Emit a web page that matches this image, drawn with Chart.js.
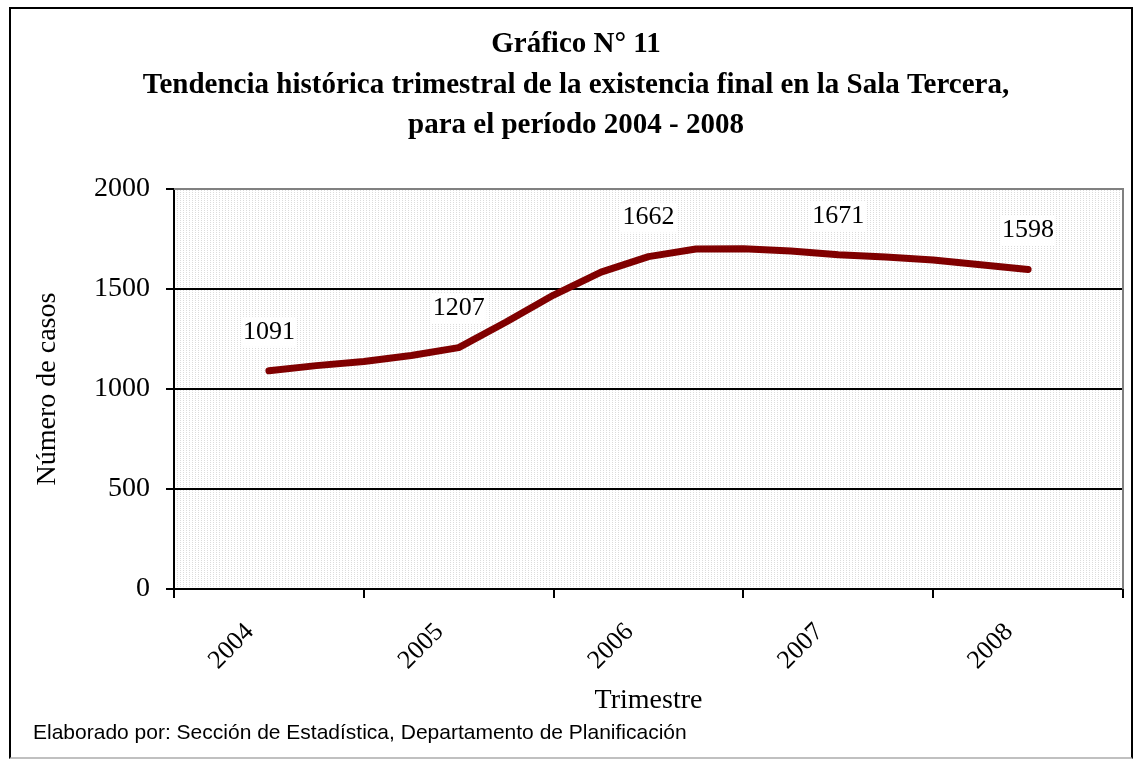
<!DOCTYPE html>
<html>
<head>
<meta charset="utf-8">
<script src="https://cdn.jsdelivr.net/npm/chart.js@4.4.0/dist/chart.umd.min.js"></script>
<style>
  html, body { margin: 0; padding: 0; background: #fff; }
  #wrap { position: relative; width: 1140px; height: 759px; overflow: hidden; }
  #frame { position: absolute; left: 9px; top: 7px; width: 1120px; height: 748px;
           border: 2px solid #000; border-bottom-color: #c0c0c0; pointer-events: none; }
  #footer { position: absolute; left: 33px; top: 720px; color: #000;
            font: 21px "Liberation Sans", Arial, sans-serif; }
</style>
</head>
<body>
<div id="wrap">
  <canvas id="chart" width="1140" height="759"></canvas>
  <div id="frame"></div>
  <div id="footer">Elaborado por: Sección de Estadística, Departamento de Planificación</div>
</div>
<script>
// ---- data ----
const years = ["2004", "2005", "2006", "2007", "2008"];
// position of each quarter on the year axis (0 = left edge of 2004, 5 = right edge of 2008)
const quarterPos = [0.5, 0.75, 1, 1.25, 1.5, 1.75, 2, 2.25, 2.5, 2.75, 3, 3.25, 3.5, 3.75, 4, 4.25, 4.5];
const casos = [1091, 1117, 1138, 1168, 1207, 1335, 1470, 1585, 1662, 1700, 1702, 1690, 1671, 1660, 1645, 1622, 1598];
const labelIdx = [0, 4, 8, 12, 16];   // points that carry a value label
const titleLines = [
  "Gráfico N° 11",
  "Tendencia histórica trimestral de la existencia final en la Sala Tercera,",
  "para el período 2004 - 2008"
];

const SERIF = "'Liberation Serif', 'Times New Roman', serif";

// dotted plot background like the original
function dotPattern(ctx) {
  const c = document.createElement("canvas");
  c.width = 3; c.height = 2;
  const g = c.getContext("2d");
  g.fillStyle = "#fff"; g.fillRect(0, 0, 3, 2);
  g.fillStyle = "#dcdcdc"; g.fillRect(0, 0, 1, 1);
  return ctx.createPattern(c, "repeat");
}

const plotBg = {
  id: "plotBg",
  beforeDraw(chart) {
    const { ctx, chartArea: a } = chart;
    ctx.save();
    ctx.fillStyle = dotPattern(ctx);
    ctx.fillRect(a.left, a.top, a.right - a.left, a.bottom - a.top);
    ctx.restore();
  },
  beforeDatasetsDraw(chart) {
    const { ctx, chartArea: a } = chart;
    ctx.save();
    ctx.strokeStyle = "#808080";
    ctx.lineWidth = 2;
    ctx.beginPath();
    ctx.moveTo(a.left, a.top);
    ctx.lineTo(a.right, a.top);
    ctx.lineTo(a.right, a.bottom);
    ctx.stroke();
    ctx.restore();
  }
};

const valueLabels = {
  id: "valueLabels",
  afterDatasetsDraw(chart) {
    const { ctx } = chart;
    const meta = chart.getDatasetMeta(0);
    ctx.save();
    ctx.font = "26px " + SERIF;
    ctx.textAlign = "center";
    ctx.textBaseline = "middle";
    labelIdx.forEach(i => {
      const p = meta.data[i];
      const txt = String(casos[i]);
      const w = ctx.measureText(txt).width;
      const y = p.y - 39;
      ctx.fillStyle = "#fff";
      ctx.fillRect(p.x - w / 2 - 2, y - 15, w + 4, 30);
      ctx.fillStyle = "#000";
      ctx.fillText(txt, p.x, y);
    });
    ctx.restore();
  }
};

new Chart(document.getElementById("chart"), {
  type: "line",
  data: {
    labels: years,
    datasets: [{
      label: "Existencia final",
      data: quarterPos.map((x, i) => ({ x, y: casos[i] })),
      xAxisID: "xq",
      borderColor: "#800000",
      borderWidth: 7,
      borderCapStyle: "round",
      borderJoinStyle: "round",
      pointRadius: 0,
      tension: 0,
      fill: false
    }]
  },
  options: {
    responsive: false,
    animation: false,
    layout: { padding: { left: 29, right: 17, top: 0, bottom: 42 } },
    plugins: {
      legend: { display: false },
      tooltip: { enabled: false },
      title: {
        display: true,
        text: titleLines,
        color: "#000",
        font: { family: SERIF, size: 29, weight: "bold", lineHeight: 1.38 },
        padding: { top: 25, bottom: 44 }
      }
    },
    scales: {
      x: {
        type: "category",
        offset: true,
        border: { display: true, color: "#000", width: 2 },
        grid: { offset: true, drawOnChartArea: false, drawTicks: true, tickLength: 9, color: "#000", lineWidth: 2 },
        ticks: { color: "#000", font: { family: SERIF, size: 26 }, minRotation: 45, maxRotation: 45, padding: 19, labelOffset: -19 },
        title: { display: true, text: "Trimestre", color: "#000", font: { family: SERIF, size: 28 }, padding: { top: 0, bottom: 0 } },
        afterFit(s) { s.height = 128; }
      },
      xq: {
        type: "linear",
        display: false,
        min: 0,
        max: 5
      },
      y: {
        min: 0,
        max: 2000,
        border: { display: true, color: "#000", width: 2 },
        grid: {
          color: c => c.tick.value === 2000 ? "rgba(0,0,0,0)" : "#000",
          tickColor: "#000",
          lineWidth: 2,
          tickLength: 8
        },
        ticks: { stepSize: 500, color: "#000", font: { family: SERIF, size: 28 }, padding: 16, callback: v => String(v) },
        title: { display: true, text: "Número de casos", color: "#000", font: { family: SERIF, size: 28 }, padding: { top: 2, bottom: 0 } },
        afterFit(s) { s.width = 145; }
      }
    }
  },
  plugins: [plotBg, valueLabels]
});
</script>
</body>
</html>
